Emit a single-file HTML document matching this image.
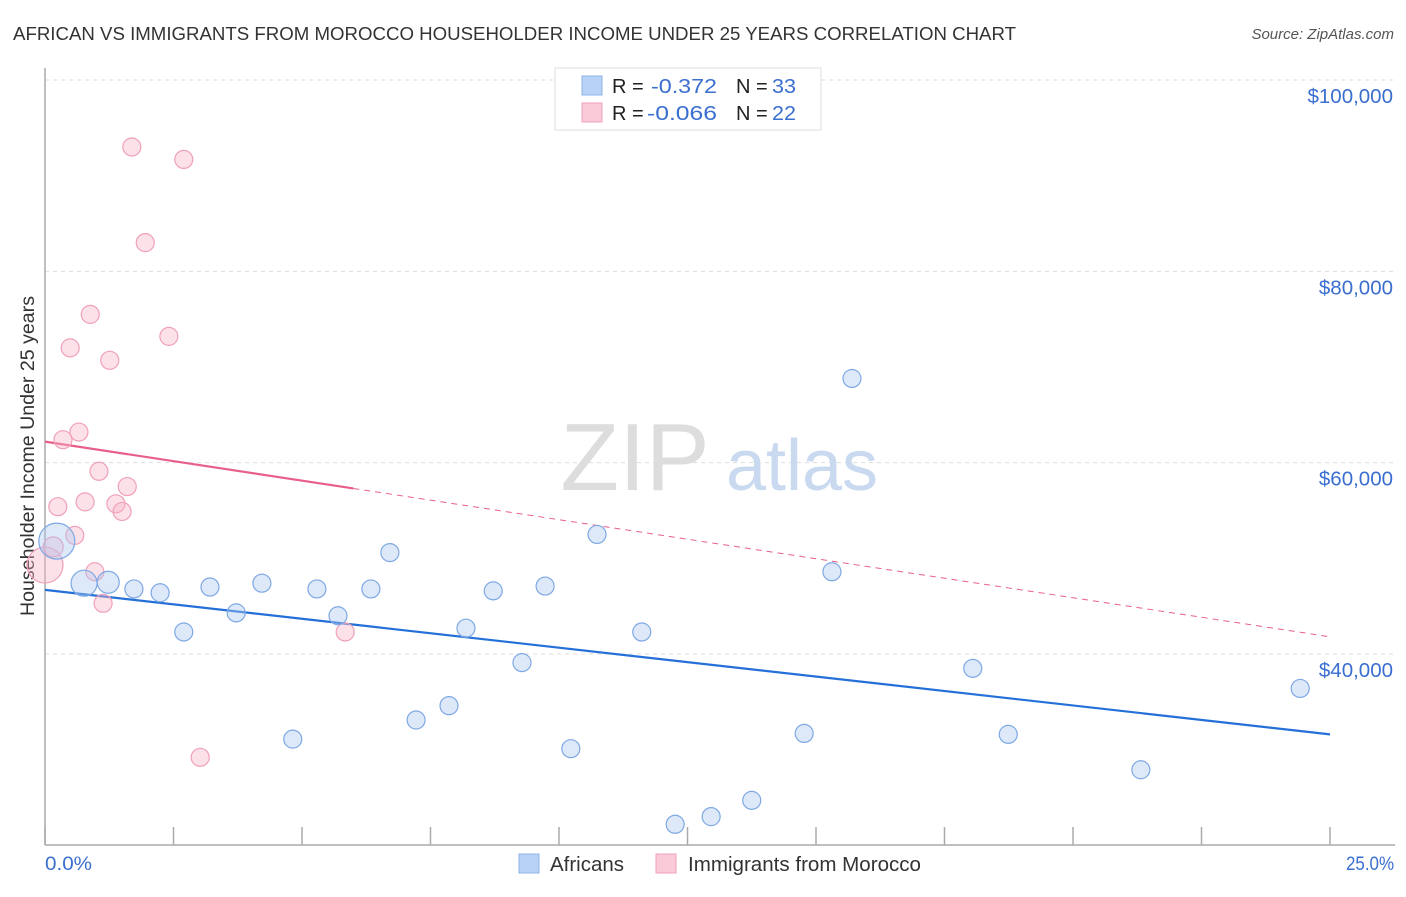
<!DOCTYPE html>
<html><head><meta charset="utf-8"><style>
body{margin:0;background:#fff;font-family:"Liberation Sans",sans-serif;}
svg text{font-family:"Liberation Sans",sans-serif;}
</style></head><body>
<svg id="chart" width="1406" height="892" viewBox="0 0 1406 892">
<text x="13" y="40" font-size="18" fill="#333" textLength="1003" lengthAdjust="spacingAndGlyphs">AFRICAN VS IMMIGRANTS FROM MOROCCO HOUSEHOLDER INCOME UNDER 25 YEARS CORRELATION CHART</text>
<text x="1394" y="39" font-size="15" fill="#555" font-style="italic" text-anchor="end">Source: ZipAtlas.com</text>
<g id="grid"></g>
<g><text x="635" y="490" font-size="96" fill="#ddd" font-family="Liberation Serif" text-anchor="middle">ZIP</text><text x="802" y="490" font-size="72" fill="#c9d9f0" text-anchor="middle">atlas</text></g>
<line x1="45" y1="68" x2="45" y2="845" stroke="#aaa" stroke-width="1.5"/>
<line x1="45" y1="845" x2="1395" y2="845" stroke="#aaa" stroke-width="1.5"/>
<text transform="translate(34,456) rotate(-90)" font-size="19" fill="#333" text-anchor="middle" textLength="320" lengthAdjust="spacingAndGlyphs">Householder Income Under 25 years</text>
<text x="45" y="870" font-size="19" fill="#3a6fd0" textLength="47" lengthAdjust="spacingAndGlyphs">0.0%</text>
<text x="1346" y="870" font-size="19" fill="#3a6fd0" textLength="48" lengthAdjust="spacingAndGlyphs">25.0%</text>
<g id="lines"></g>
<g id="points"></g>
<g>
<rect x="555" y="68" width="266" height="62" fill="#fff" stroke="#ddd"/>
<rect x="582" y="76" width="20" height="19" fill="#b8d2f5" stroke="#8fb4e8"/>
<text x="612" y="93" font-size="20" fill="#222">R = </text><text x="651" y="93" font-size="20" fill="#3a6fd0" textLength="66" lengthAdjust="spacingAndGlyphs">-0.372</text>
<text x="736" y="93" font-size="20" fill="#222">N = </text><text x="772" y="93" font-size="20" fill="#3a6fd0" textLength="24" lengthAdjust="spacingAndGlyphs">33</text>
<rect x="582" y="103" width="20" height="19" fill="#fbcad8" stroke="#f0a0b8"/>
<text x="612" y="120" font-size="20" fill="#222">R = </text><text x="647" y="120" font-size="20" fill="#3a6fd0" textLength="70" lengthAdjust="spacingAndGlyphs">-0.066</text>
<text x="736" y="120" font-size="20" fill="#222">N = </text><text x="772" y="120" font-size="20" fill="#3a6fd0" textLength="24" lengthAdjust="spacingAndGlyphs">22</text>
</g>
<g>
<rect x="519" y="854" width="20" height="19" fill="#b8d2f5" stroke="#8fb4e8"/>
<text x="550" y="871" font-size="20" fill="#333" textLength="74" lengthAdjust="spacingAndGlyphs">Africans</text>
<rect x="656" y="854" width="20" height="19" fill="#fbcad8" stroke="#f0a0b8"/>
<text x="688" y="871" font-size="20" fill="#333" textLength="233" lengthAdjust="spacingAndGlyphs">Immigrants from Morocco</text>
</g>
</svg>
<script>
const yTicks=[40,60,80,100];
const yTickLabels=["$40,000","$60,000","$80,000","$100,000"];
const xTicks=[0,2.5,5,7.5,10,12.5,15,17.5,20,22.5,25];
const afrX=[0.23,0.76,1.23,1.73,2.24,2.70,3.21,3.72,4.22,4.82,5.29,5.70,6.34,6.71,7.22,7.86,8.19,8.72,9.28,9.73,10.23,10.74,11.61,12.26,12.96,13.75,14.77,15.31,15.70,18.05,18.74,21.32,24.42];
const afrY=[51.8,47.4,47.5,46.8,46.4,42.3,47.0,44.3,47.4,31.1,46.8,44.0,46.8,50.6,33.1,34.6,42.7,46.6,39.1,47.1,30.1,52.5,42.3,22.2,23.0,24.7,31.7,48.6,68.8,38.5,31.6,27.9,36.4];
const afrR=[18,13,11,9,9,9,9,9,9,9,9,9,9,9,9,9,9,9,9,9,9,9,9,9,9,9,9,9,9,9,9,9,9];
const morX=[0,0.16,0.25,0.35,0.49,0.58,0.66,0.78,0.88,0.97,1.05,1.13,1.26,1.38,1.50,1.60,1.69,1.95,2.41,2.70,3.02,5.84];
const morY=[49.3,51.2,55.4,62.4,72.0,52.4,63.2,55.9,75.5,48.6,59.1,45.3,70.7,55.7,54.9,57.5,93.0,83.0,73.2,91.7,29.2,42.3];
const morR=[18,10,9,9,9,9,9,9,9,9,9,9,9,9,9,9,9,9,9,9,9,9];
const afrTrend=[46.7,31.6];
const morTrend=[62.2,41.8];
const morSolidEnd=6;
const NS="http://www.w3.org/2000/svg";
const xs=v=>45+v/25*1285;
const ys=v=>654-(v-40)*574/60;
function mk(tag,parent,attrs){const e=document.createElementNS(NS,tag);for(const k in attrs)e.setAttribute(k,attrs[k]);parent.appendChild(e);return e;}
const grid=document.getElementById('grid');
yTicks.forEach((t,i)=>{
 const l=mk('line',grid,{x1:45,x2:1395,y1:ys(t),y2:ys(t),stroke:'#ddd','stroke-dasharray':'4,4'});
 
 
 const tx=mk('text',grid,{x:1393,y:ys(t)+23,'font-size':20.5,fill:'#3a6fd0','text-anchor':'end'});
 tx.textContent=yTickLabels[i];
 
 
});
xTicks.forEach(t=>{
 const l=mk('line',grid,{x1:xs(t),x2:xs(t),y1:827,y2:845,stroke:'#aaa','stroke-width':1.5});
 
 
});
const lines=document.getElementById('lines');
const bl=mk('line',lines,{x1:xs(0),y1:ys(afrTrend[0]),x2:xs(25),y2:ys(afrTrend[1]),stroke:'#2470d8','stroke-width':2.2});


const mAt=x=>morTrend[0]+(morTrend[1]-morTrend[0])*x/25;
const pl=mk('line',lines,{x1:xs(0),y1:ys(morTrend[0]),x2:xs(morSolidEnd),y2:ys(mAt(morSolidEnd)),stroke:'#e8608a','stroke-width':2.2});


const pd=mk('line',lines,{x1:xs(morSolidEnd),y1:ys(mAt(morSolidEnd)),x2:xs(25),y2:ys(morTrend[1]),stroke:'#e8608a','stroke-width':1,'stroke-dasharray':'6,5'});


const pts=document.getElementById('points');
morX.forEach((x,i)=>{
 const c=mk('circle',pts,{cx:xs(x),cy:ys(morY[i]),r:morR[i],fill:'rgba(248,180,200,0.4)',stroke:'#f0a0b8','stroke-width':1.2});
 
 
});
afrX.forEach((x,i)=>{
 const c=mk('circle',pts,{cx:xs(x),cy:ys(afrY[i]),r:afrR[i],fill:'rgba(170,200,240,0.4)',stroke:'#7ea8e4','stroke-width':1.2});
 
 
});
</script>
</body></html>
